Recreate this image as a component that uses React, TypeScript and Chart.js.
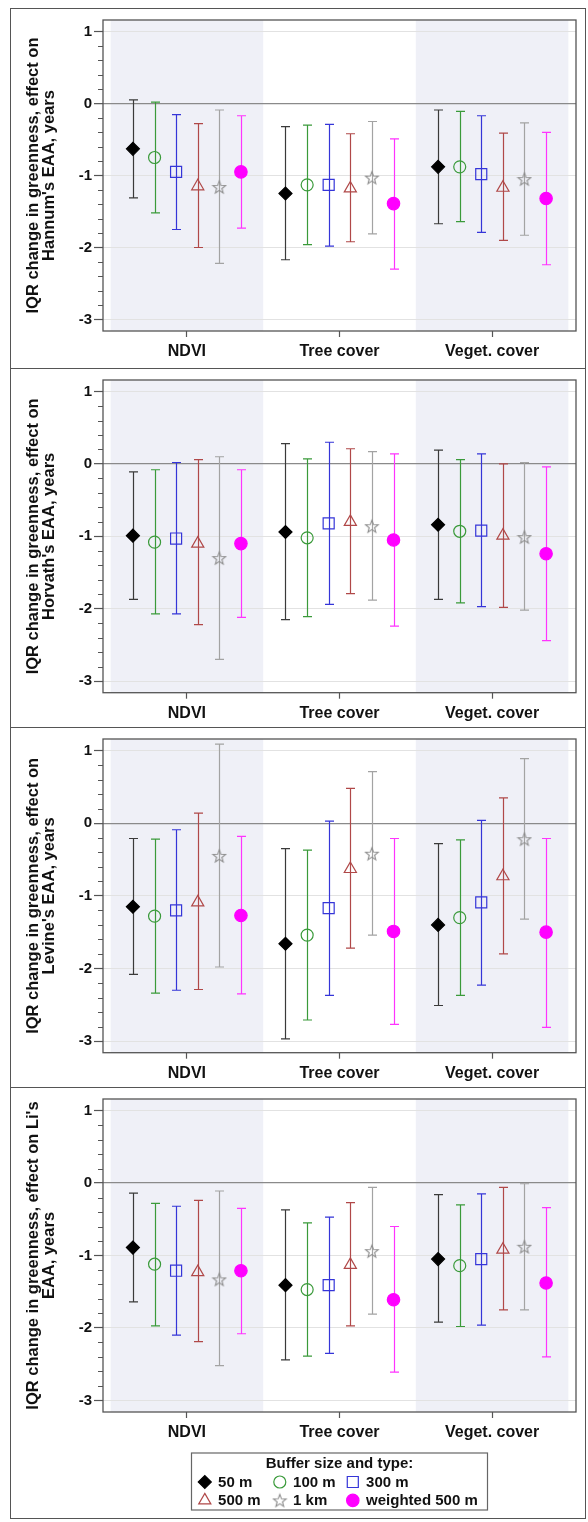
import React, { useEffect, useRef } from 'react';
import { Chart, registerables } from 'chart.js';
import { drawPoint } from 'chart.js/helpers';

Chart.register(...registerables);

// ---------------- DATA ----------------
const categories = ['NDVI', 'Tree cover', 'Veget. cover'];
const seriesNames = ['50 m', '100 m', '300 m', '500 m', '1 km', 'weighted 500 m'];
const seriesOffsets = [-0.354, -0.212, -0.071, 0.071, 0.212, 0.354];
const shadedCategories = [0, 2];
const legendTitle = 'Buffer size and type:';

// rows = series (50m,100m,300m,500m,1km,weighted 500m), cols = categories
const hannumEst = [
  [-0.63, -1.25, -0.88],
  [-0.75, -1.13, -0.88],
  [-0.95, -1.13, -0.98],
  [-1.15, -1.18, -1.17],
  [-1.16, -1.03, -1.05],
  [-0.95, -1.39, -1.32],
];
const hannumLow = [
  [-1.31, -2.17, -1.67],
  [-1.52, -1.96, -1.64],
  [-1.75, -1.98, -1.79],
  [-2.0, -1.92, -1.9],
  [-2.22, -1.81, -1.83],
  [-1.73, -2.3, -2.24],
];
const hannumHigh = [
  [0.05, -0.32, -0.09],
  [0.02, -0.3, -0.11],
  [-0.155, -0.29, -0.17],
  [-0.28, -0.42, -0.41],
  [-0.09, -0.25, -0.27],
  [-0.17, -0.49, -0.4],
];

const horvathEst = [
  [-0.99, -0.94, -0.84],
  [-1.08, -1.02, -0.93],
  [-1.03, -0.82, -0.92],
  [-1.1, -0.8, -0.99],
  [-1.3, -0.86, -1.01],
  [-1.1, -1.05, -1.24],
];
const horvathLow = [
  [-1.87, -2.15, -1.87],
  [-2.07, -2.11, -1.92],
  [-2.07, -1.94, -1.97],
  [-2.22, -1.79, -1.98],
  [-2.7, -1.88, -2.02],
  [-2.12, -2.24, -2.44],
];
const horvathHigh = [
  [-0.11, 0.28, 0.19],
  [-0.08, 0.07, 0.06],
  [0.02, 0.3, 0.14],
  [0.06, 0.21, 0.0],
  [0.1, 0.17, 0.02],
  [-0.08, 0.14, -0.04],
];

const levineEst = [
  [-1.15, -1.66, -1.4],
  [-1.28, -1.54, -1.3],
  [-1.2, -1.17, -1.09],
  [-1.09, -0.63, -0.73],
  [-0.45, -0.42, -0.22],
  [-1.27, -1.49, -1.5],
];
const levineLow = [
  [-2.08, -2.97, -2.51],
  [-2.34, -2.71, -2.37],
  [-2.3, -2.37, -2.23],
  [-2.29, -1.72, -1.8],
  [-1.98, -1.54, -1.32],
  [-2.35, -2.77, -2.81],
];
const levineHigh = [
  [-0.21, -0.35, -0.28],
  [-0.22, -0.37, -0.23],
  [-0.09, 0.03, 0.04],
  [0.14, 0.48, 0.35],
  [1.09, 0.71, 0.89],
  [-0.18, -0.21, -0.21],
];

const liEst = [
  [-0.89, -1.41, -1.05],
  [-1.12, -1.47, -1.14],
  [-1.21, -1.41, -1.05],
  [-1.23, -1.13, -0.92],
  [-1.33, -0.94, -0.88],
  [-1.21, -1.61, -1.38],
];
const liLow = [
  [-1.64, -2.44, -1.92],
  [-1.97, -2.39, -1.98],
  [-2.1, -2.35, -1.96],
  [-2.19, -1.97, -1.75],
  [-2.52, -1.81, -1.75],
  [-2.08, -2.61, -2.4],
];
const liHigh = [
  [-0.14, -0.37, -0.16],
  [-0.28, -0.55, -0.3],
  [-0.32, -0.47, -0.15],
  [-0.24, -0.27, -0.06],
  [-0.11, -0.06, -0.01],
  [-0.35, -0.6, -0.34],
];

const yTitleHannum = ['IQR change in greenness, effect on', "Hannum's EAA, years"];
const yTitleHorvath = ['IQR change in greenness, effect on', "Horvath's EAA, years"];
const yTitleLevine = ['IQR change in greenness, effect on', "Levine's EAA, years"];
const yTitleLi = ["IQR change in greenness, effect on Li's", 'EAA, years'];

const yMin = -3.16;
const yMax = 1.16;
const xMin = -0.55;
const xMax = 2.55;

// ---------------- STYLES ----------------
const FONT = "'Liberation Sans', Arial, Helvetica, sans-serif";
const TEXT = '#111';
const markerColors = ['#000000', '#3a9a3a', '#3535d8', '#b04848', '#9a9a9a', '#ff00ff'];
const barColors = ['#3a3a3a', '#3a9a3a', '#3535d8', '#b04848', '#a3a3a3', '#ff33ff'];
const markerFill = ['#000000', 'rgba(0,0,0,0)', 'rgba(0,0,0,0)', 'rgba(0,0,0,0)', 'rgba(0,0,0,0)', '#ff00ff'];
const markerRadius = [6.5, 6, 7.8, 7, 6, 6.2];

function makeStar(color: string) {
  const R = 6.6;
  const r = 2.8;
  const size = 16;
  const c = document.createElement('canvas');
  c.width = size;
  c.height = size;
  const g = c.getContext('2d')!;
  g.strokeStyle = color;
  g.lineWidth = 1.1;
  g.beginPath();
  for (let k = 0; k < 10; k++) {
    const a = -Math.PI / 2 + (k * Math.PI) / 5;
    const rr = k % 2 === 0 ? R : r;
    const px = size / 2 + rr * Math.cos(a);
    const py = size / 2 + 0.6 + rr * Math.sin(a);
    if (k === 0) g.moveTo(px, py);
    else g.lineTo(px, py);
  }
  g.closePath();
  g.stroke();
  return c;
}

let starImg: HTMLCanvasElement | null = null;
function getStyles(): any[] {
  if (!starImg) starImg = makeStar('#8c8c8c');
  return ['rectRot', 'circle', 'rect', 'triangle', starImg, 'circle'];
}

type PanelCfg = {
  top: number;
  height: number;
  padTop: number;
  plotH: number;
  padBottom: number;
  est: number[][];
  low: number[][];
  high: number[][];
  title: string[];
  legend: boolean;
};

const panels: PanelCfg[] = [
  { top: 8, height: 361, padTop: 7.7, plotH: 314.3, padBottom: 0, est: hannumEst, low: hannumLow, high: hannumHigh, title: yTitleHannum, legend: false },
  { top: 368, height: 360, padTop: 10.3, plotH: 313.4, padBottom: 0, est: horvathEst, low: horvathLow, high: horvathHigh, title: yTitleHorvath, legend: false },
  { top: 727, height: 361, padTop: 10.3, plotH: 314.4, padBottom: 0, est: levineEst, low: levineLow, high: levineHigh, title: yTitleLevine, legend: false },
  { top: 1087, height: 432, padTop: 10.7, plotH: 313.3, padBottom: 72, est: liEst, low: liLow, high: liHigh, title: yTitleLi, legend: true },
];

const CANVAS_W = 574;
const Y_AXIS_W = 92;
const PAD_RIGHT = 6;

function Panel({ cfg }: { cfg: PanelCfg }) {
  const ref = useRef<HTMLCanvasElement>(null);
  const canvasH = cfg.height - 2;
  useEffect(() => {
    if (!ref.current) return;
    const styles = getStyles();
    const xH = canvasH - cfg.padTop - cfg.plotH - cfg.padBottom;

    const bandPlugin = {
      id: 'bands',
      beforeDraw(chart: any) {
        const { ctx, chartArea, scales } = chart;
        const x = scales.x;
        ctx.save();
        ctx.fillStyle = '#eff0f7';
        for (const j of shadedCategories) {
          const x0 = x.getPixelForValue(j - 0.5);
          const x1 = x.getPixelForValue(j + 0.5);
          ctx.fillRect(x0, chartArea.top, x1 - x0, chartArea.bottom - chartArea.top);
        }
        ctx.restore();
      },
    };

    const errPlugin = {
      id: 'errbars',
      beforeDatasetsDraw(chart: any) {
        const { ctx, scales } = chart;
        const x = scales.x;
        const y = scales.y;
        ctx.save();
        ctx.lineWidth = 1.2;
        for (let i = 0; i < seriesNames.length; i++) {
          ctx.strokeStyle = barColors[i];
          for (let j = 0; j < categories.length; j++) {
            const px = Math.round(x.getPixelForValue(j + seriesOffsets[i])) + 0.5;
            const y0 = y.getPixelForValue(cfg.low[i][j]);
            const y1 = y.getPixelForValue(cfg.high[i][j]);
            ctx.beginPath();
            ctx.moveTo(px, y0);
            ctx.lineTo(px, y1);
            ctx.moveTo(px - 4.5, y0);
            ctx.lineTo(px + 4.5, y0);
            ctx.moveTo(px - 4.5, y1);
            ctx.lineTo(px + 4.5, y1);
            ctx.stroke();
          }
        }
        ctx.restore();
      },
    };

    const framePlugin = {
      id: 'frame',
      afterDraw(chart: any) {
        const { ctx, chartArea, scales } = chart;
        const y = scales.y;
        ctx.save();
        ctx.strokeStyle = '#555';
        ctx.lineWidth = 1.3;
        ctx.strokeRect(chartArea.left, chartArea.top, chartArea.right - chartArea.left, chartArea.bottom - chartArea.top);
        // minor ticks
        ctx.lineWidth = 1;
        ctx.beginPath();
        for (let k = -20; k <= 10; k++) {
          if (k % 5 === 0) continue;
          const v = k / 5;
          if (v < yMin || v > yMax) continue;
          const py = Math.round(y.getPixelForValue(v)) + 0.5;
          ctx.moveTo(chartArea.left - 5, py);
          ctx.lineTo(chartArea.left, py);
        }
        ctx.stroke();

        if (cfg.legend) {
          const cx = (chartArea.left + chartArea.right) / 2;
          const boxW = 296;
          const boxH = 57;
          const bx = cx - boxW / 2;
          const by = chartArea.bottom + 41;
          ctx.strokeStyle = '#666';
          ctx.lineWidth = 1.2;
          ctx.strokeRect(bx, by, boxW, boxH);
          ctx.fillStyle = TEXT;
          ctx.font = `bold 15px ${FONT}`;
          ctx.textAlign = 'center';
          ctx.textBaseline = 'middle';
          ctx.fillText(legendTitle, cx, by + 11);
          const colMarker = [13.3, 88.3, 161.3];
          const rowY = [29, 47.4];
          ctx.textAlign = 'left';
          for (let i = 0; i < seriesNames.length; i++) {
            const row = Math.floor(i / 3);
            const col = i % 3;
            const mx = bx + colMarker[col];
            const my = by + rowY[row];
            ctx.save();
            ctx.fillStyle = markerFill[i];
            ctx.strokeStyle = markerColors[i];
            ctx.lineWidth = 1.2;
            drawPoint(ctx, { pointStyle: styles[i], rotation: 0, radius: markerRadius[i], borderWidth: 1.2 } as any, mx, my);
            ctx.restore();
            ctx.fillStyle = TEXT;
            ctx.font = `bold 15px ${FONT}`;
            ctx.fillText(seriesNames[i], mx + 13.3, my + 0.5);
          }
        }
        ctx.restore();
      },
    };

    const datasets = seriesNames.map((name, i) => ({
      label: name,
      data: categories.map((_, j) => ({ x: j + seriesOffsets[i], y: cfg.est[i][j] })),
      pointStyle: styles[i],
      pointRadius: markerRadius[i],
      pointHoverRadius: markerRadius[i],
      pointBackgroundColor: markerFill[i],
      pointBorderColor: markerColors[i],
      pointBorderWidth: 1.2,
      showLine: false,
    }));

    const chart = new Chart(ref.current, {
      type: 'scatter',
      data: { datasets },
      plugins: [bandPlugin, errPlugin, framePlugin],
      options: {
        animation: false,
        responsive: false,
        devicePixelRatio: 1,
        events: [],
        layout: { padding: { top: cfg.padTop, right: PAD_RIGHT, bottom: cfg.padBottom, left: 0 } },
        plugins: { legend: { display: false }, tooltip: { enabled: false } },
        scales: {
          x: {
            type: 'linear',
            min: xMin,
            max: xMax,
            afterBuildTicks: (s: any) => {
              s.ticks = categories.map((_, i) => ({ value: i }));
            },
            afterFit: (s: any) => {
              s.height = xH;
            },
            ticks: {
              callback: (v: any) => categories[Math.round(Number(v))] ?? '',
              font: { family: FONT, size: 16, weight: 'bold' },
              color: TEXT,
              padding: 5,
              autoSkip: false,
              maxRotation: 0,
            },
            grid: { drawOnChartArea: false, tickLength: 6, tickColor: '#555', tickWidth: 1.2 },
            border: { display: false },
          },
          y: {
            type: 'linear',
            min: yMin,
            max: yMax,
            afterFit: (s: any) => {
              s.width = Y_AXIS_W;
            },
            ticks: {
              stepSize: 1,
              includeBounds: false,
              font: { family: FONT, size: 15, weight: 'bold' },
              color: TEXT,
              padding: 2,
            },
            grid: {
              color: (c: any) => (c.tick && c.tick.value === 0 ? '#8a8a8a' : '#e2e2e2'),
              lineWidth: (c: any) => (c.tick && c.tick.value === 0 ? 1.3 : 1),
              tickColor: '#555',
              tickLength: 9,
              tickWidth: 1.2,
            },
            border: { display: false },
            title: {
              display: true,
              text: cfg.title,
              font: { family: FONT, size: 16.5, weight: 'bold', lineHeight: 1.0 },
              color: TEXT,
              padding: { top: 14, bottom: 0 },
            },
          },
        },
      } as any,
    });
    return () => chart.destroy();
  }, []);
  return (
    <div
      style={{
        position: 'absolute',
        left: 10,
        top: cfg.top,
        width: 576,
        height: cfg.height,
        border: '1px solid #555',
        boxSizing: 'border-box',
        background: '#fff',
      }}
    >
      <canvas ref={ref} width={CANVAS_W} height={canvasH} style={{ display: 'block' }} />
    </div>
  );
}

export default function App() {
  return (
    <div style={{ position: 'absolute', left: 0, top: 0, width: 588, height: 1522, background: '#fff' }}>
      {panels.map((p, i) => (
        <Panel key={i} cfg={p} />
      ))}
    </div>
  );
}
